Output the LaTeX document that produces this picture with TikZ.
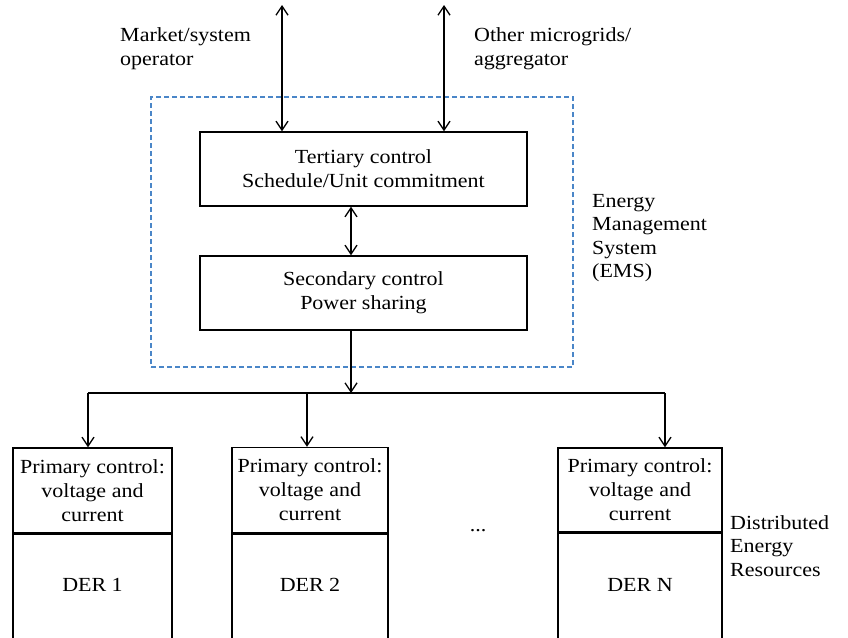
\documentclass[tikz,border=0pt]{standalone}
\usepackage{fontspec}
\setmainfont{Liberation Serif}[FakeStretch=1.1]
\usetikzlibrary{arrows.meta}
\definecolor{emsblue}{RGB}{74,134,200}
\tikzset{
  txt/.style={font=\fontsize{20}{24}\selectfont, inner sep=0pt},
  lbl/.style={txt, align=left, anchor=north west},
  boxn/.style={txt, draw, line width=1.4pt, align=center, minimum width=#1},
  conn/.style={line width=1.4pt},
  tip/.style={-{Straight Barb[length=9pt,width=12pt,line width=1.3pt]}},
  tips/.style={{Straight Barb[length=9pt,width=12pt,line width=1.3pt]}-{Straight Barb[length=9pt,width=12pt,line width=1.3pt]}},
  emsbox/.style={draw=emsblue, line width=1.6pt, dash pattern=on 5pt off 3pt}
}
\begin{document}
\begin{tikzpicture}[x=1pt,y=-1pt]
\useasboundingbox (0,0) rectangle (848,637);
\clip (0,0) rectangle (848,637);
% EMS dashed frame
\node[emsbox, minimum width=422pt, minimum height=270pt, inner sep=0pt] (ems) at (362,232) {};
% control boxes
\node[boxn=327pt, minimum height=74pt] (tert) at (363.5,169) {Tertiary control\\Schedule/Unit commitment};
\node[boxn=327pt, minimum height=74pt] (sec) at (363.5,293) {Secondary control\\Power sharing};
% DER boxes
\node[boxn=159pt, minimum height=85pt] (p1) at (92.5,490.5) {Primary control:\\voltage and\\current};
\node[boxn=159pt, minimum height=120pt, anchor=north] (d1) at (p1.south) {};
\node[txt] (d1t) at (92.5,585) {DER 1};
\node[boxn=156pt, minimum height=85pt] (p2) at (310,490) {Primary control:\\voltage and\\current};
\node[boxn=156pt, minimum height=120pt, anchor=north] (d2) at (p2.south) {};
\node[txt] (d2t) at (310,585) {DER 2};
\node[boxn=164pt, minimum height=84pt] (pN) at (640,490) {Primary control:\\voltage and\\current};
\node[boxn=164pt, minimum height=120pt, anchor=north] (dN) at (pN.south) {};
\node[txt] (dNt) at (640,585) {DER N};
\node[txt] (dots) at (478,531) {...};
% labels
\node[lbl] (mso) at (120,27) {Market/system\\operator};
\node[lbl] (omg) at (474,27) {Other microgrids/\\aggregator};
\node[lbl, font=\fontsize{20}{23.5}\selectfont] (emsl) at (592,194) {Energy\\Management\\System\\(EMS)};
\node[lbl, font=\fontsize{20}{23.5}\selectfont] (derl) at (730,515) {Distributed\\Energy\\Resources};
% connectors
\coordinate (top1) at (282,5);
\coordinate (top2) at (444,5);
\coordinate (mid) at (351,0);
\coordinate (bus) at (351,393);
\coordinate (b1) at (88,393);
\coordinate (b2) at (307,393);
\coordinate (bN) at (665,393);
\draw[conn, tips] (top1) -- (top1 |- tert.north);
\draw[conn, tips] (top2) -- (top2 |- tert.north);
\draw[conn, tips] (tert.south -| mid) -- (sec.north -| mid);
\draw[conn, tip] (sec.south -| mid) -- (bus);
\draw[conn] (b1) -- (bN);
\draw[conn, tip] (b1) -- (b1 |- p1.north);
\draw[conn, tip] (b2) -- (b2 |- p2.north);
\draw[conn, tip] (bN) -- (bN |- pN.north);
\end{tikzpicture}
\end{document}
